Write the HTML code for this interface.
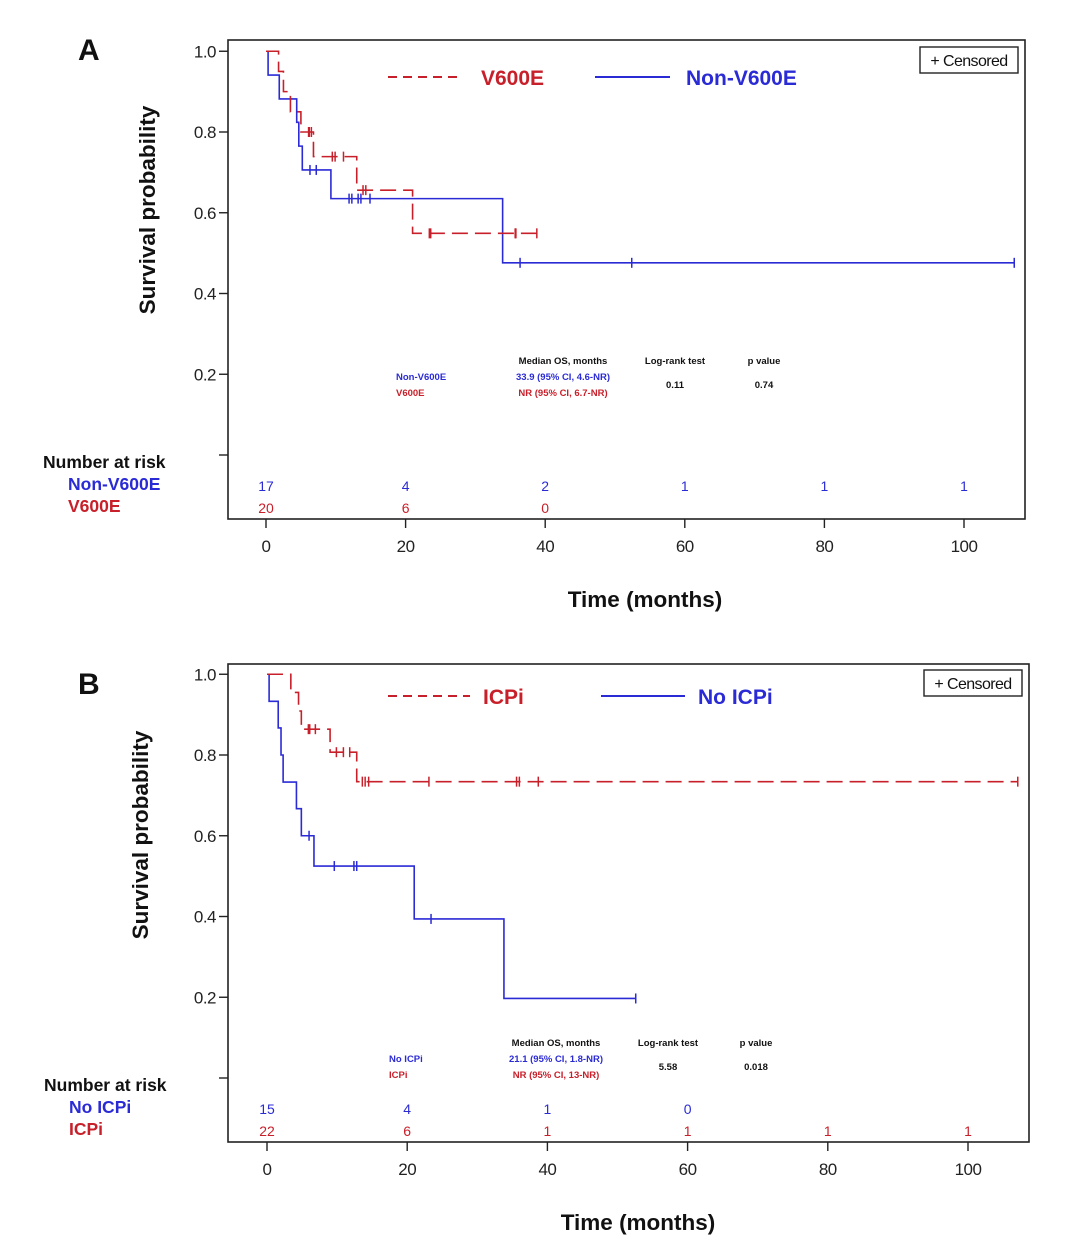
<!DOCTYPE html>
<html><head><meta charset="utf-8"><style>
html,body{margin:0;padding:0;background:#fff;}
svg{display:block;font-family:"Liberation Sans",Arial,sans-serif;}
</style></head><body>
<svg id="chart" width="1080" height="1245" viewBox="0 0 1080 1245"></svg>
<script>
// ---------- Panel A data ----------
const aBlueTimes = [0, 0.3, 1.9, 4.4, 4.7, 5.2, 9.3, 33.9];
const aBlueSurv  = [1.0, 0.941, 0.882, 0.824, 0.765, 0.706, 0.635, 0.476];
const aBlueEnd = 107.2;
const aBlueCens = [6.3, 7.2, 11.9, 12.3, 13.2, 13.6, 14.9, 36.4, 52.4, 107.2];
const aRedTimes = [0, 1.8, 2.5, 3.5, 5.0, 6.8, 13.0, 21.0];
const aRedSurv  = [1.0, 0.95, 0.90, 0.85, 0.80, 0.739, 0.656, 0.549];
const aRedEnd = 38.8;
const aRedCens = [6.1, 6.2, 6.5, 9.5, 9.9, 11.1, 13.9, 14.3, 23.4, 23.6, 35.7, 35.8, 38.8];
const aRiskTimes = [0, 20, 40, 60, 80, 100];
const aRiskBlue = ["17", "4", "2", "1", "1", "1"];
const aRiskRed = ["20", "6", "0", "", "", ""];
// ---------- Panel B data ----------
const bBlueTimes = [0, 0.3, 1.6, 2.0, 2.3, 4.2, 4.9, 6.7, 21.0, 33.8];
const bBlueSurv  = [1.0, 0.933, 0.867, 0.80, 0.733, 0.667, 0.60, 0.525, 0.394, 0.197];
const bBlueEnd = 52.6;
const bBlueCens = [6.0, 9.6, 12.4, 12.8, 23.4, 52.6];
const bRedTimes = [0, 3.4, 4.5, 4.9, 9.0, 12.8];
const bRedSurv  = [1.0, 0.955, 0.909, 0.864, 0.807, 0.734];
const bRedEnd = 107.1;
const bRedCens = [5.9, 6.1, 6.9, 9.9, 10.9, 11.8, 13.6, 14.0, 14.5, 23.1, 35.6, 36.0, 38.7, 107.1];
const bRiskTimes = [0, 20, 40, 60, 80, 100];
const bRiskBlue = ["15", "4", "1", "0", "", ""];
const bRiskRed = ["22", "6", "1", "1", "1", "1"];
const xTicks = [0, 20, 40, 60, 80, 100];
const yTicks = [0.2, 0.4, 0.6, 0.8, 1.0];

const NS = "http://www.w3.org/2000/svg";
const svg = document.getElementById("chart");
const BLUE = "#2b2bd6", RED = "#c8202a";
function mk(tag, attrs, parent, text) {
  const e = document.createElementNS(NS, tag);
  for (const k in attrs) e.setAttribute(k, attrs[k]);
  if (text !== undefined) e.textContent = text;
  (parent || svg).appendChild(e);
  return e;
}

function panel(p) {
  const g = mk("g", {});
  
  
  const X = t => p.x0 + p.xs * t;
  const Y = s => p.y0 - p.ys * s;
  const fr = mk("rect", {x: p.left, y: p.top, width: p.right - p.left, height: p.bottom - p.top, fill: "none", stroke: "#222", "stroke-width": 1.6}, g);
  
  
  const L = mk("text", {x: p.letterX, y: p.letterY, "font-size": 30, "font-weight": "bold", fill: "#111"}, g, p.letter);
  
  
  const yt = yTicks.concat([0]);
  yt.forEach(v => {
    const tk = mk("line", {x1: p.left - 9, x2: p.left, y1: Y(v), y2: Y(v), stroke: "#222", "stroke-width": 1.4}, g);
    
    
    if (v > 0) {
      const tl = mk("text", {x: p.left - 12, y: Y(v) + 6, "text-anchor": "end", "font-size": 17, fill: "#222", "letter-spacing": "-0.5"}, g, v.toFixed(1));
      
      
    }
  });
  const yT = mk("text", {x: 0, y: 0, transform: `translate(${p.yTitleX},${p.yTitleY}) rotate(-90)`, "text-anchor": "middle", "font-size": 22.5, "font-weight": "bold", fill: "#111"}, g, "Survival probability");
  
  
  xTicks.forEach(v => {
    const tk = mk("line", {x1: X(v), x2: X(v), y1: p.bottom, y2: p.bottom + 9, stroke: "#222", "stroke-width": 1.4}, g);
    
    
    const tl = mk("text", {x: X(v), y: p.bottom + 33, "text-anchor": "middle", "font-size": 17, fill: "#222", "letter-spacing": "-0.5"}, g, String(v));
    
    
  });
  const xT = mk("text", {x: p.xTitleX, y: p.xTitleY, "text-anchor": "middle", "font-size": 22.5, "font-weight": "bold", fill: "#111"}, g, "Time (months)");
  
  
  const cb = mk("rect", {x: p.cbX, y: p.cbY, width: 98, height: 26, fill: "#fff", stroke: "#222", "stroke-width": 1.4}, g);
  
  
  const ct = mk("text", {x: p.cbX + 49, y: p.cbY + 19, "text-anchor": "middle", "font-size": 16, fill: "#111", "letter-spacing": "-0.6"}, g, "+ Censored");
  
  
  function series(times, surv, end, cens, color, dash, name) {
    let d = `M${X(times[0])},${Y(surv[0])}`;
    for (let i = 1; i < times.length; i++) d += ` H${X(times[i])} V${Y(surv[i])}`;
    d += ` H${X(end)}`;
    const path = mk("path", {d: d, fill: "none", stroke: color, "stroke-width": 1.6, "stroke-dasharray": dash}, g);
    
    
    cens.forEach(t => {
      let s = surv[0];
      for (let i = 0; i < times.length; i++) if (times[i] <= t) s = surv[i];
      const c = mk("line", {x1: X(t), x2: X(t), y1: Y(s) - 5, y2: Y(s) + 5, stroke: color, "stroke-width": 1.5}, g);
      
      
    });
  }
  series(p.blueT, p.blueS, p.blueEnd, p.blueC, BLUE, "none", p.blueName);
  series(p.redT, p.redS, p.redEnd, p.redC, RED, "16,7", p.redName);
  const l1 = mk("line", {x1: p.lgRedX1, x2: p.lgRedX2, y1: p.lgY, y2: p.lgY, stroke: RED, "stroke-width": 2, "stroke-dasharray": "9,6"}, g);
  
  
  const lt1 = mk("text", {x: p.lgRedTX, y: p.lgY + 8, "font-size": 21, "font-weight": "bold", fill: RED}, g, p.redLabel);
  
  
  const l2 = mk("line", {x1: p.lgBlueX1, x2: p.lgBlueX2, y1: p.lgY, y2: p.lgY, stroke: BLUE, "stroke-width": 2}, g);
  
  
  const lt2 = mk("text", {x: p.lgBlueTX, y: p.lgY + 8, "font-size": 21, "font-weight": "bold", fill: BLUE}, g, p.blueLabel);
  
  
  const st = p.stats, sy = p.statY;
  const f = "font-size:9.5px;font-weight:bold;";
  [[p.statX0, sy + 16, st.nameBlue, BLUE, "start"], [p.statX0, sy + 32, st.nameRed, RED, "start"],
   [p.statX1, sy, "Median OS, months", "#111", "middle"], [p.statX1, sy + 16, st.medBlue, BLUE, "middle"], [p.statX1, sy + 32, st.medRed, RED, "middle"],
   [p.statX2, sy, "Log-rank test", "#111", "middle"], [p.statX2, sy + 24, st.lr, "#111", "middle"],
   [p.statX3, sy, "p value", "#111", "middle"], [p.statX3, sy + 24, st.pv, "#111", "middle"]].forEach(r => {
    const t = mk("text", {x: r[0], y: r[1], fill: r[3], "text-anchor": r[4], style: f}, g, r[2]);
    
    
  });
  const nr = mk("text", {x: p.nrX, y: p.nrY, "font-size": 17.5, "font-weight": "bold", fill: "#111"}, g, "Number at risk");
  
  
  const nb = mk("text", {x: p.nrX + 25, y: p.nrY + 22, "font-size": 17.5, "font-weight": "bold", fill: BLUE}, g, p.blueLabel);
  
  
  const nrr = mk("text", {x: p.nrX + 25, y: p.nrY + 44, "font-size": 17.5, "font-weight": "bold", fill: RED}, g, p.redLabel);
  
  
  p.riskT.forEach((t, i) => {
    const a = mk("text", {x: X(t), y: p.nrY + 23, "text-anchor": "middle", "font-size": 14, fill: BLUE}, g, p.riskB[i]);
    
    
    const b = mk("text", {x: X(t), y: p.nrY + 45, "text-anchor": "middle", "font-size": 14, fill: RED}, g, p.riskR[i]);
    
    
  });
}

panel({prefix: "panel-a", letter: "A", letterX: 78, letterY: 60,
  left: 228, right: 1025, top: 40, bottom: 519, x0: 266, xs: 6.98, y0: 455, ys: 403.75,
  yTitleX: 155, yTitleY: 210, xTitleX: 645, xTitleY: 607, cbX: 920, cbY: 47,
  blueT: aBlueTimes, blueS: aBlueSurv, blueEnd: aBlueEnd, blueC: aBlueCens, blueName: "non-v600e", blueLabel: "Non-V600E",
  redT: aRedTimes, redS: aRedSurv, redEnd: aRedEnd, redC: aRedCens, redName: "v600e", redLabel: "V600E",
  lgY: 77, lgRedX1: 388, lgRedX2: 462, lgRedTX: 481, lgBlueX1: 595, lgBlueX2: 670, lgBlueTX: 686,
  stats: {nameBlue: "Non-V600E", nameRed: "V600E", medBlue: "33.9 (95% CI, 4.6-NR)", medRed: "NR (95% CI, 6.7-NR)", lr: "0.11", pv: "0.74"},
  statY: 364, statX0: 396, statX1: 563, statX2: 675, statX3: 764,
  nrX: 43, nrY: 468, riskT: aRiskTimes, riskB: aRiskBlue, riskR: aRiskRed});

panel({prefix: "panel-b", letter: "B", letterX: 78, letterY: 694,
  left: 228, right: 1029, top: 664, bottom: 1142, x0: 267, xs: 7.01, y0: 1078, ys: 403.75,
  yTitleX: 148, yTitleY: 835, xTitleX: 638, xTitleY: 1230, cbX: 924, cbY: 670,
  blueT: bBlueTimes, blueS: bBlueSurv, blueEnd: bBlueEnd, blueC: bBlueCens, blueName: "no-icpi", blueLabel: "No ICPi",
  redT: bRedTimes, redS: bRedSurv, redEnd: bRedEnd, redC: bRedCens, redName: "icpi", redLabel: "ICPi",
  lgY: 696, lgRedX1: 388, lgRedX2: 470, lgRedTX: 483, lgBlueX1: 601, lgBlueX2: 685, lgBlueTX: 698,
  stats: {nameBlue: "No ICPi", nameRed: "ICPi", medBlue: "21.1 (95% CI, 1.8-NR)", medRed: "NR  (95% CI, 13-NR)", lr: "5.58", pv: "0.018"},
  statY: 1046, statX0: 389, statX1: 556, statX2: 668, statX3: 756,
  nrX: 44, nrY: 1091, riskT: bRiskTimes, riskB: bRiskBlue, riskR: bRiskRed});
</script>
</body></html>
